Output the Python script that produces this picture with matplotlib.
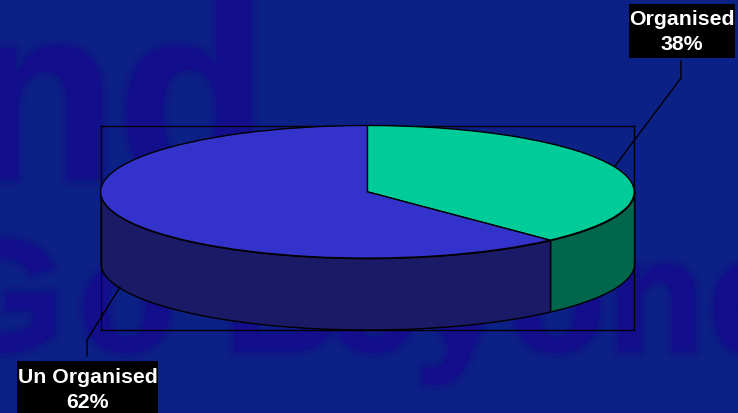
import numpy as np
import matplotlib as mpl
mpl.use('Agg')
import matplotlib.pyplot as plt
import matplotlib.patheffects as pe
from matplotlib.patches import Rectangle

labels = ['Organised', 'Un Organised']
shares = [38, 62]
top_colors = ['#00cc99', '#3333cc']
side_colors = ['#00664c', '#1a1a66']

W, H = 738, 414
BG = '#0c2186'
WATERMARK = '#140e8c'
depth = 71 / 66  # pie thickness, in units of the squashed radius

plt.rcParams['font.family'] = ['Liberation Sans', 'DejaVu Sans']

fig = plt.figure(figsize=(W / 100, H / 100), dpi=100, facecolor=BG)

# backdrop layer in pixel units, stays under the pie
back = fig.add_axes([0, 0, 1, 1], zorder=0)
back.set_xlim(0, W)
back.set_ylim(H, 0)
back.axis('off')

# soft edged backdrop lettering, the wide faint strokes fake a blur
soft = [pe.withStroke(linewidth=w, foreground=WATERMARK, alpha=0.13) for w in (13, 9, 5, 2)]
backdrop = [('nd', -34, 180, 178)]
backdrop += [(c, x, 352, 115) for c, x in [('G', -60), ('o', 78), ('B', 224), ('e', 328),
                                           ('y', 415), ('o', 508), ('n', 607), ('d', 708)]]
for txt, x, y, size in backdrop:
    back.text(x, y, txt, fontsize=size, fontweight='bold', color=WATERMARK, alpha=0.6,
              ha='left', va='baseline', path_effects=soft + [pe.Normal()])

# pie, squashed by turning off the equal aspect
ax = fig.add_axes([100.6 / W, 1 - 330.5 / H, 533.6 / W, 204 / H], zorder=1)
ax.pie(shares, colors=top_colors, startangle=90, counterclock=False, radius=1,
       wedgeprops=dict(edgecolor='black', linewidth=1, clip_on=False, zorder=3))
ax.set_aspect('auto')
ax.set_xlim(-1, 1)
ax.set_ylim(-1 - depth, 1)
ax.set_xticks([])
ax.set_yticks([])
ax.set_frame_on(True)
ax.patch.set_alpha(0)
for s in ax.spines.values():
    s.set_linewidth(1)
    s.set_color('black')

# side wall, only the part of each slice that faces the viewer
start = 90.0
for share, col in zip(shares, side_colors):
    stop = start - share * 3.6
    lo, hi = max(stop, -180), min(start, 0)
    if hi <= lo:
        lo, hi = max(stop + 360, -180), min(start + 360, 0)
    if hi > lo:
        a = np.radians(np.linspace(lo, hi, 120))
        ax.fill_between(np.cos(a), np.sin(a), np.sin(a) - depth, facecolor=col,
                        edgecolor='black', linewidth=1, clip_on=False, zorder=2)
    start = stop

# callouts on top of everything
front = fig.add_axes([0, 0, 1, 1], zorder=2)
front.set_xlim(0, W)
front.set_ylim(H, 0)
front.axis('off')
callouts = [
    ((629, 5, 106, 54), (682, 32), [(615, 167), (681, 79), (681, 62)]),
    ((17, 362, 141, 54), (87.5, 390), [(120, 288), (87, 341), (87, 357)]),
]
for label, share, (box, centre, leader) in zip(labels, shares, callouts):
    front.add_patch(Rectangle(box[:2], box[2], box[3], facecolor='black', edgecolor='none'))
    front.text(*centre, f'{label}\n{share}%', color='white', fontsize=15.3, fontweight='bold',
               ha='center', va='center', linespacing=1.4)
    xs, ys = zip(*leader)
    front.plot(xs, ys, color='black', lw=1)

fig.savefig('out.png', dpi=100, facecolor=BG)
